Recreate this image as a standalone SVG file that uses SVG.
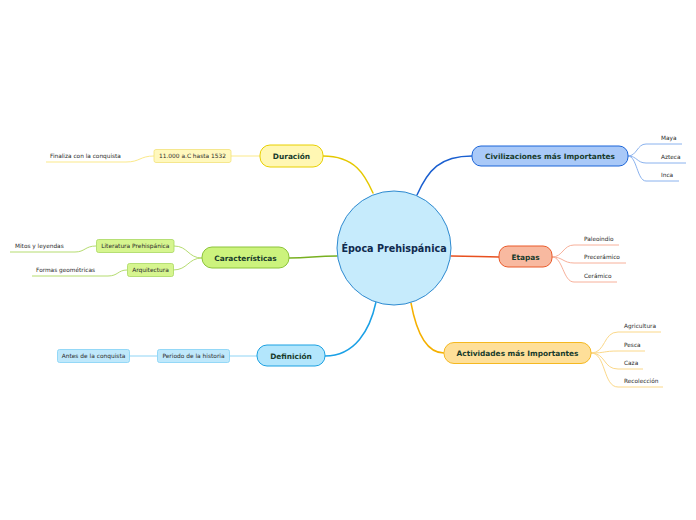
<svg xmlns="http://www.w3.org/2000/svg" width="696" height="520" viewBox="0 0 696 520">
<style>
text{font-family:"DejaVu Sans","Verdana",sans-serif;}
.main{font-size:9.6px;font-weight:bold;fill:#0f2a4e;text-anchor:middle;}
.topic{font-size:7.4px;font-weight:bold;fill:#173b2c;text-anchor:middle;}
.sub{font-size:5.9px;fill:#2a2a2a;text-anchor:middle;}
.leaf{font-size:5.8px;fill:#2a2a2a;}
.c{fill:none;stroke-linecap:round;}
</style>
<rect width="696" height="520" fill="#ffffff"/>
<g id="connectors">
<path class="c" d="M323,156 C355,156 365,175 373,193" stroke="#e5c800" stroke-width="1.5"/>
<path class="c" d="M417,195 C428,170 440,156 472,156" stroke="#1a5fd0" stroke-width="1.5"/>
<path class="c" d="M289,258 C310,258 315,256 337,256" stroke="#78b020" stroke-width="1.5"/>
<path class="c" d="M451,256 C475,256 480,257 499,257" stroke="#e8501f" stroke-width="1.5"/>
<path class="c" d="M325,356 C355,356 370,330 376,302" stroke="#1aa0e6" stroke-width="1.5"/>
<path class="c" d="M411,303 C416,330 425,353 444,353" stroke="#f5b000" stroke-width="1.5"/>
<g stroke="#fbe98a" stroke-width="1" fill="none">
<path d="M260,156 L231,156"/>
<path d="M154,156 C140,156 140,162 126,162 L46,162"/>
</g>
<g stroke="#b5dc70" stroke-width="1" fill="none">
<path d="M202,258 C188,258 188,246 174,246"/>
<path d="M202,258 C188,258 188,270 173,270"/>
<path d="M96,246 C85,246 85,252 75,252 L10,252"/>
<path d="M127,270 C118,270 118,276 108,276 L32,276"/>
</g>
<g stroke="#8fd4f5" stroke-width="1" fill="none">
<path d="M257,356 L229,356"/>
<path d="M157,356 L129,356"/>
</g>
<g stroke="#8ab2ee" stroke-width="1" fill="none">
<path d="M628,156 C637,156 637,144 646,144 L682,144"/>
<path d="M628,156 C637,156 637,163 646,163 L686,163"/>
<path d="M628,156 C637,156 637,181 646,181 L679,181"/>
</g>
<g stroke="#f7b09a" stroke-width="1" fill="none">
<path d="M552,257 C563,257 563,245 574,245 L619,245"/>
<path d="M552,257 C563,257 563,263 574,263 L626,263"/>
<path d="M552,257 C563,257 563,282 574,282 L617,282"/>
</g>
<g stroke="#fbd889" stroke-width="1" fill="none">
<path d="M591,353 C606,353 603,332 618,332 L661,332"/>
<path d="M591,353 C606,353 603,351 618,351 L645,351"/>
<path d="M591,353 C606,353 603,369 618,369 L643,369"/>
<path d="M591,353 C606,353 603,387 618,387 L663,387"/>
</g>
</g>
<g id="center">
<circle cx="394" cy="248" r="57" fill="#c6ebfc" stroke="#2e8ad0" stroke-width="1"/>
<text class="main" x="394" y="251.5">Época Prehispánica</text>
</g>
<g id="duracion">
<rect x="260" y="145" width="63" height="22" rx="10" fill="#fff7b3" stroke="#e8d000" stroke-width="1"/>
<text class="topic" x="291.5" y="158.5">Duración</text>
</g>
<g id="duracion-fecha">
<rect x="154" y="149.5" width="77" height="13" rx="2" fill="#fff8bd" stroke="#f3e27a" stroke-width="0.8"/>
<text class="sub" x="192.5" y="158">11.000 a.C hasta 1532</text>
</g>
<g id="finaliza"><text class="leaf" x="50" y="158">Finaliza con la conquista</text></g>
<g id="caracteristicas">
<rect x="202" y="247" width="87" height="21" rx="10" fill="#ccf37d" stroke="#8cc43a" stroke-width="1"/>
<text class="topic" x="245.5" y="260.5">Características</text>
</g>
<g id="literatura">
<rect x="96.5" y="239.5" width="77.5" height="13" rx="2" fill="#d6f58f" stroke="#a8d860" stroke-width="0.8"/>
<text class="sub" x="135.3" y="248">Literatura Prehispánica</text>
</g>
<g id="arquitectura">
<rect x="127.5" y="263.5" width="46" height="13" rx="2" fill="#d6f58f" stroke="#a8d860" stroke-width="0.8"/>
<text class="sub" x="150.5" y="272">Arquitectura</text>
</g>
<g id="mitos"><text class="leaf" x="15" y="248">Mitos y leyendas</text></g>
<g id="formas"><text class="leaf" x="36" y="272">Formas geométricas</text></g>
<g id="definicion">
<rect x="257" y="345" width="68" height="21" rx="10" fill="#b3e6fc" stroke="#1ba1e2" stroke-width="1"/>
<text class="topic" x="291" y="358.5">Definición</text>
</g>
<g id="periodo">
<rect x="157.5" y="349.5" width="72" height="13" rx="2" fill="#bfe8fb" stroke="#80d0f5" stroke-width="0.8"/>
<text class="sub" x="193.5" y="358">Periodo de la historia</text>
</g>
<g id="antes">
<rect x="57.5" y="349.5" width="72" height="13" rx="2" fill="#bfe8fb" stroke="#80d0f5" stroke-width="0.8"/>
<text class="sub" x="93.5" y="358">Antes de la conquista</text>
</g>
<g id="civilizaciones">
<rect x="472" y="146" width="156" height="20" rx="9" fill="#a9c9f8" stroke="#1a64d8" stroke-width="1"/>
<text class="topic" x="550" y="158.5">Civilizaciones más Importantes</text>
</g>
<g id="maya"><text class="leaf" x="661" y="140">Maya</text></g>
<g id="azteca"><text class="leaf" x="661" y="159">Azteca</text></g>
<g id="inca"><text class="leaf" x="661" y="177">Inca</text></g>
<g id="etapas">
<rect x="499" y="246" width="53" height="21" rx="9" fill="#f8b9a0" stroke="#ea5a2a" stroke-width="1"/>
<text class="topic" x="525.5" y="259.5">Etapas</text>
</g>
<g id="paleoindio"><text class="leaf" x="584" y="241">Paleoindio</text></g>
<g id="preceramico"><text class="leaf" x="584" y="259">Precerámico</text></g>
<g id="ceramico"><text class="leaf" x="584" y="278">Cerámico</text></g>
<g id="actividades">
<rect x="444" y="342.5" width="147" height="21" rx="10" fill="#fedf99" stroke="#f5b820" stroke-width="1"/>
<text class="topic" x="517.5" y="356">Actividades más Importantes</text>
</g>
<g id="agricultura"><text class="leaf" x="624" y="328">Agricultura</text></g>
<g id="pesca"><text class="leaf" x="624" y="347">Pesca</text></g>
<g id="caza"><text class="leaf" x="624" y="365">Caza</text></g>
<g id="recoleccion"><text class="leaf" x="624" y="383">Recolección</text></g>
</svg>
